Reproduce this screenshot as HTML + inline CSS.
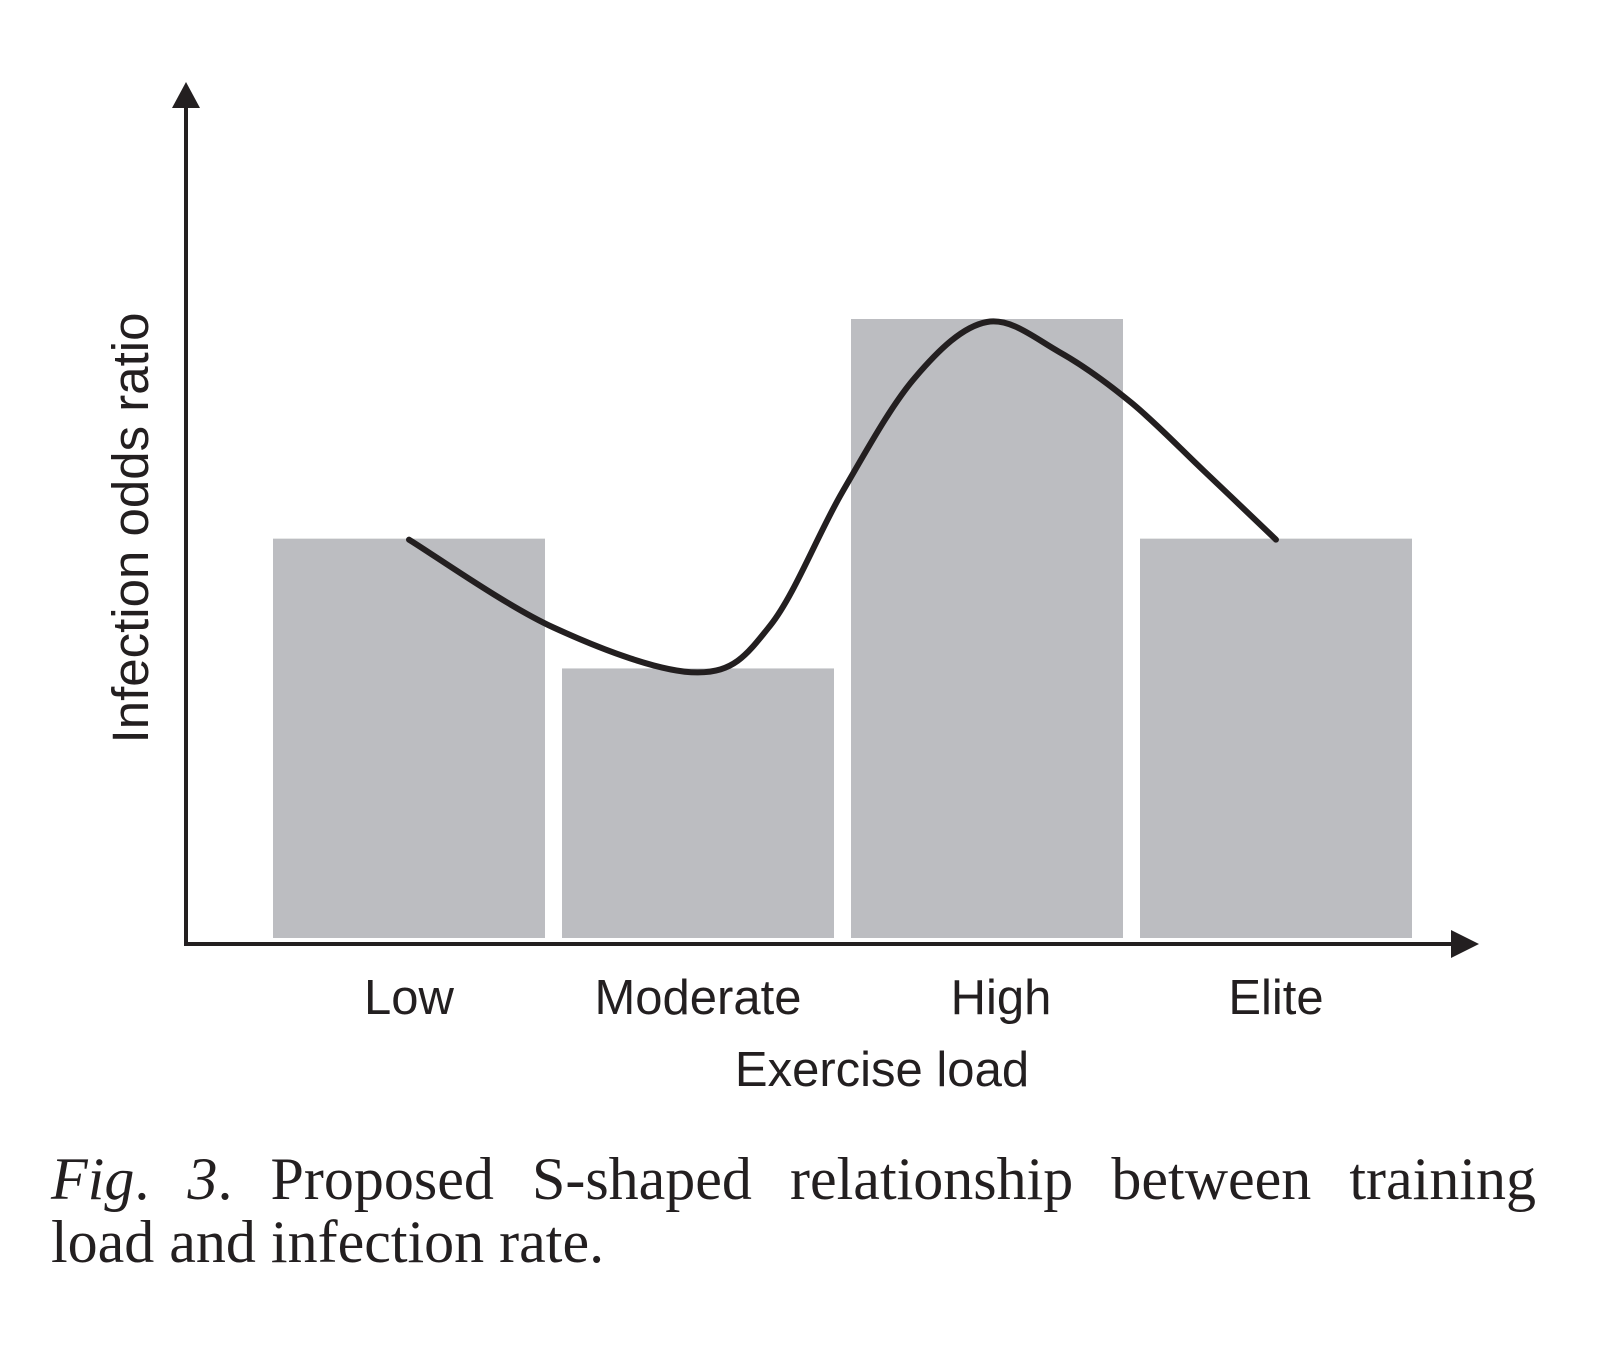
<!DOCTYPE html>
<html><head><meta charset="utf-8"><style>
body{margin:0;background:#fff;width:1600px;height:1346px;overflow:hidden;position:relative}
svg{position:absolute;left:0;top:0}
.cap{position:absolute;left:51px;width:1485px;font-family:"Liberation Serif",serif;font-size:60px;line-height:63px;color:#231f20;white-space:nowrap}
.l1{top:1148px;text-align:justify;text-align-last:justify}
.l2{top:1211px}
</style></head><body>
<svg width="1600" height="1346">
<g id="bars"></g>
<path id="curve" fill="none" stroke="#231f20" stroke-width="6" stroke-linecap="round"/>
<line x1="186" y1="944" x2="186" y2="104" stroke="#231f20" stroke-width="4"/>
<polygon points="186,82 172,108 200,108" fill="#231f20"/>
<line x1="184" y1="944" x2="1455" y2="944" stroke="#231f20" stroke-width="4"/>
<polygon points="1479,944 1451,930 1451,958" fill="#231f20"/>
<g id="labels" font-family="Liberation Sans, sans-serif" font-size="49" fill="#231f20" text-anchor="middle"></g>
<text x="882" y="1086" font-family="Liberation Sans, sans-serif" font-size="49" fill="#231f20" text-anchor="middle">Exercise load</text>
<text transform="translate(148,528) rotate(-90)" font-family="Liberation Sans, sans-serif" font-size="51" fill="#231f20" text-anchor="middle">Infection odds ratio</text>
</svg>
<div class="cap l1"><i>Fig</i>. <i>3</i>. Proposed S-shaped relationship between training</div>
<div class="cap l2">load and infection rate.</div>
<script>
const categories=["Low","Moderate","High","Elite"];
const barValues=[4.0,2.7,6.2,4.0];
const curveX=[0,0.5,1,1.25,1.5,1.75,2,2.25,2.5,2.75,3];
const curveY=[3.99,3.11,2.66,3.13,4.47,5.61,6.17,5.87,5.36,4.68,3.99];
const x0=273,band=289,bw=272,yBase=938;
const xS=i=>x0+i*band;
const yS=v=>yBase-v*(yBase-319)/6.2;
const NS="http://www.w3.org/2000/svg";
const bars=document.getElementById('bars'),labels=document.getElementById('labels');
categories.forEach((c,i)=>{
 const r=document.createElementNS(NS,'rect');
 r.setAttribute('x',xS(i));r.setAttribute('width',bw);
 r.setAttribute('y',yS(barValues[i]));r.setAttribute('height',yBase-yS(barValues[i]));
 r.setAttribute('fill','#bcbdc1');
 
 
 bars.appendChild(r);
 const t=document.createElementNS(NS,'text');
 t.setAttribute('x',xS(i)+bw/2+(i===2?14:0));t.setAttribute('y',1014);t.textContent=c;
 
 
 labels.appendChild(t);
});
const cx=v=>xS(0)+bw/2+v*band;
const pts=curveX.map((v,i)=>[cx(v),yS(curveY[i])]);
let d='M'+pts[0][0]+','+pts[0][1];
for(let i=0;i<pts.length-1;i++){
 const p0=pts[i-1]||pts[i],p1=pts[i],p2=pts[i+1],p3=pts[i+2]||p2;
 d+=' C'+(p1[0]+(p2[0]-p0[0])/6)+','+(p1[1]+(p2[1]-p0[1])/6)+' '+(p2[0]-(p3[0]-p1[0])/6)+','+(p2[1]-(p3[1]-p1[1])/6)+' '+p2[0]+','+p2[1];
}
document.getElementById('curve').setAttribute('d',d);
</script>
</body></html>
